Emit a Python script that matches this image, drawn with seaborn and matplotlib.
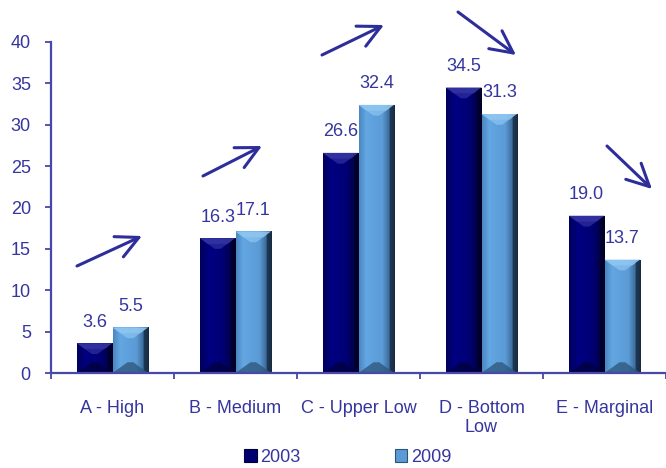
import numpy as np
import pandas as pd
import matplotlib
matplotlib.use("Agg")
import matplotlib.pyplot as plt
from matplotlib.colors import LinearSegmentedColormap
from matplotlib.patches import Polygon, Patch, FancyArrowPatch
import seaborn as sns

# ---- data -------------------------------------------------------------
categories = ["A - High", "B - Medium", "C - Upper Low", "D - Bottom\nLow", "E - Marginal"]
years = ["2003", "2009"]
values_2003 = [3.6, 16.3, 26.6, 34.5, 19.0]
values_2009 = [5.5, 17.1, 32.4, 31.3, 13.7]
y_ticks = [0, 5, 10, 15, 20, 25, 30, 35, 40]

df = pd.DataFrame({
    "category": categories * 2,
    "year": [years[0]] * len(categories) + [years[1]] * len(categories),
    "value": values_2003 + values_2009,
})

TEXT = "#3535a0"
AXIS = "#4848aa"
ARROW = "#2e2e9a"
base = {"2003": "#000078", "2009": "#5b9ad6"}

# horizontal shading across each bar face
grad = {
    "2003": LinearSegmentedColormap.from_list("g03", [
        (0.0, "#00005a"), (0.25, "#000082"), (0.65, "#000074"),
        (0.88, "#000048"), (1.0, "#000020")]),
    "2009": LinearSegmentedColormap.from_list("g09", [
        (0.0, "#4a86c0"), (0.2, "#62a6e2"), (0.65, "#5b9bd6"),
        (0.85, "#3b6a98"), (1.0, "#13243a")]),
}
top_bevel = {"2003": "#3a3aa8", "2009": "#95cbf5"}
bottom_bevel = {"2003": "#00003c", "2009": "#2c5478"}
right_bevel = {"2003": "#00002a", "2009": "#1a3048"}

sns.set_theme(style="white")
plt.rcParams["font.family"] = ["Liberation Sans", "DejaVu Sans"]

fig = plt.figure(figsize=(6.66, 4.68), dpi=100)
ax = fig.add_axes([51 / 666, (468 - 373) / 468, 615 / 666, 331 / 468])

sns.barplot(data=df, x="category", y="value", hue="year", hue_order=years,
            palette=base, width=0.58, gap=0, legend=False, ax=ax,
            saturation=1, edgecolor="none", linewidth=0)

XLIM = (-0.5, 4.5 - 0.02)
ax.set_xlim(*XLIM)
ax.set_ylim(0, 40)

# pixel scale for keeping bevels square
px_x = 615 / (XLIM[1] - XLIM[0])
px_y = 331 / 40.0

gradient = np.linspace(0, 1, 256).reshape(1, -1)
for container, yr in zip(ax.containers, years):
    for bar in container:
        x0, w, h = bar.get_x(), bar.get_width(), bar.get_height()
        img = ax.imshow(gradient, cmap=grad[yr], aspect="auto",
                        extent=(x0, x0 + w, 0, h), origin="lower", zorder=2)
        img.set_clip_path(bar)
        bar.set_zorder(1.5)
        w_px = w * px_x
        dx = 0.42 * w
        dy = min(0.30 * w_px / px_y, h / 2)
        dx2 = 0.22 * w
        dy2 = min(0.16 * w_px / px_y, h / 2)
        faces = [
            # soft outer wedge, then stronger inner wedge on the top face
            ([(x0, h), (x0 + w, h), (x0 + w - dx, h - dy), (x0 + dx, h - dy)],
             top_bevel[yr], 0.6),
            ([(x0, h), (x0 + w, h), (x0 + w - dx2, h - dy2), (x0 + dx2, h - dy2)],
             top_bevel[yr], 0.6),
            ([(x0, 0), (x0 + w, 0), (x0 + w - dx, dy), (x0 + dx, dy)],
             bottom_bevel[yr], 0.75),
            ([(x0 + w, 0), (x0 + w, h), (x0 + w - dx * 0.3, h - dy * 0.3),
              (x0 + w - dx * 0.3, dy * 0.3)], right_bevel[yr], 0.85),
        ]
        for pts, col, a in faces:
            ax.add_patch(Polygon(pts, closed=True, facecolor=col,
                                 edgecolor="none", zorder=3, alpha=a))

ax.set_xlim(*XLIM)
ax.set_ylim(0, 40)

for container in ax.containers:
    ax.bar_label(container, fmt="%.1f", padding=9, color=TEXT, fontsize=13)

# axes styling
for side in ["top", "right"]:
    ax.spines[side].set_visible(False)
for side in ["left", "bottom"]:
    ax.spines[side].set_color(AXIS)
    ax.spines[side].set_linewidth(1.6)
    ax.spines[side].set_zorder(5)

ax.set_yticks(y_ticks)
ax.set_yticklabels([str(t) for t in y_ticks])
ax.tick_params(axis="y", direction="out", length=4.5, width=1.3, color=AXIS,
               labelcolor=TEXT, labelsize=13, pad=10, left=True)
ax.set_xticks(range(len(categories)))
ax.set_xticklabels(categories, linespacing=1.15)
ax.set_xticks(np.arange(-0.5, len(categories), 1.0), minor=True)
ax.tick_params(axis="x", which="major", length=0, labelcolor=TEXT,
               labelsize=13, pad=19.5)
ax.tick_params(axis="x", which="minor", direction="out", length=4,
               width=1.3, color=AXIS, bottom=True)
ax.set_xlabel("")
ax.set_ylabel("")
ax.grid(False)

# trend arrows
arrows = [
    ((77, 266), (142, 236)),
    ((203, 176), (262, 146)),
    ((322, 55), (384, 25)),
    ((458, 12), (516, 55)),
    ((607, 146), (652, 189)),
]
for (sx, sy), (ex, ey) in arrows:
    fig.add_artist(FancyArrowPatch(
        (sx / 666, 1 - sy / 468), (ex / 666, 1 - ey / 468),
        transform=fig.transFigure, arrowstyle="->,head_length=10,head_width=5",
        color=ARROW, lw=2.2, mutation_scale=1.6, zorder=10,
        shrinkA=0, shrinkB=0))

handles = [Patch(facecolor="#000070", edgecolor="#00003a", lw=0.8),
           Patch(facecolor="#5b9ad6", edgecolor="#2c5478", lw=0.8)]
leg = fig.legend(handles, years, loc="lower center", bbox_to_anchor=(0.522, -0.030),
                 ncol=2, frameon=False, fontsize=13, handlelength=0.7,
                 handleheight=0.7, handletextpad=0.2, columnspacing=5.2)
for t in leg.get_texts():
    t.set_color(TEXT)

fig.savefig("out.png", dpi=100)
